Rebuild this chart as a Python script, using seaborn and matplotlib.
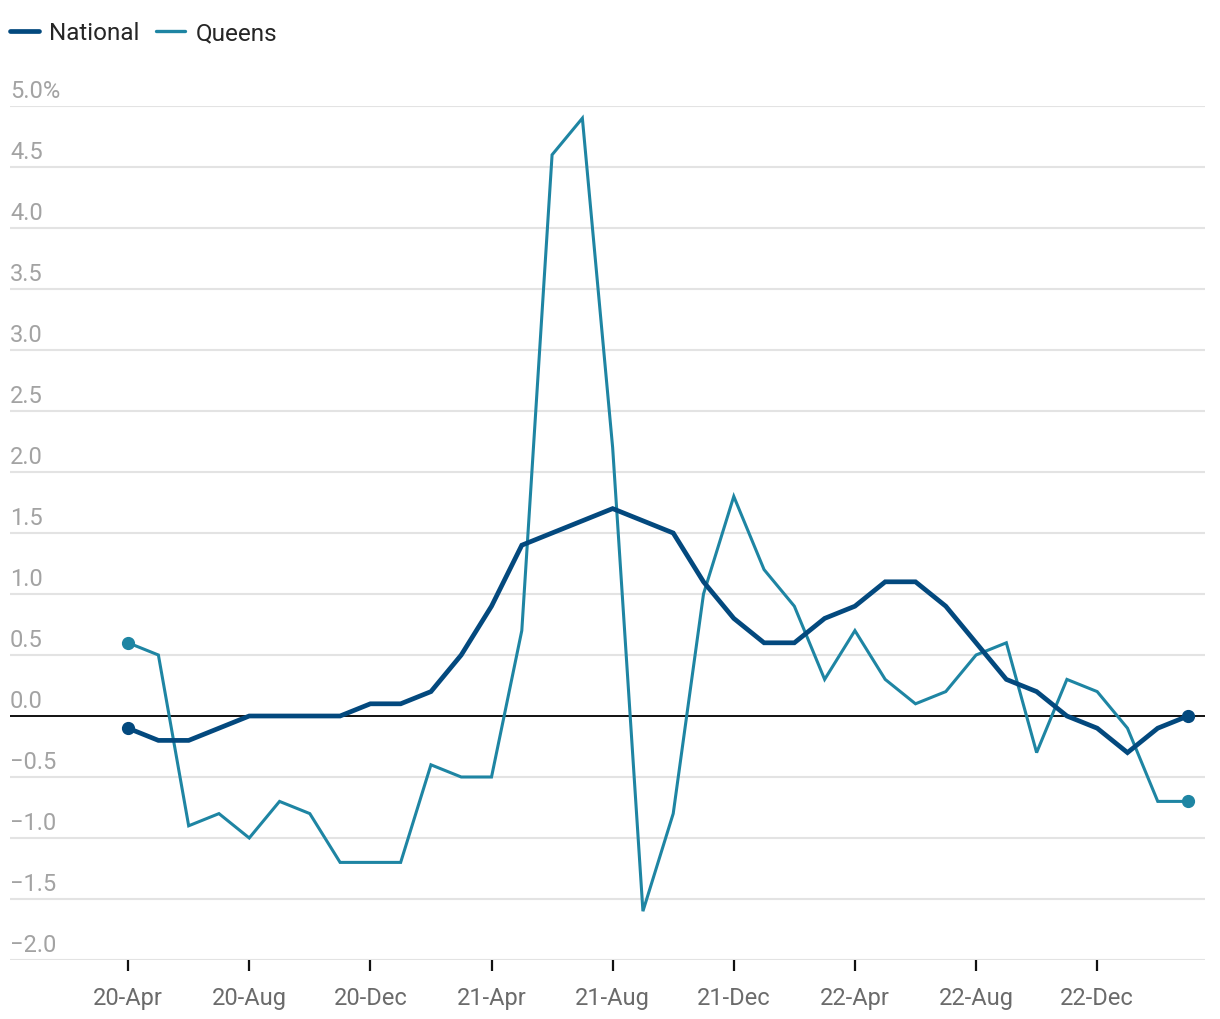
import matplotlib
matplotlib.use("Agg")
import matplotlib.pyplot as plt
import matplotlib.transforms as mtransforms
from matplotlib.lines import Line2D
import pandas as pd
import seaborn as sns

# monthly change, 20-Apr .. 23-Mar
months = ['20-Apr', '20-May', '20-Jun', '20-Jul', '20-Aug', '20-Sep', '20-Oct', '20-Nov', '20-Dec',
          '21-Jan', '21-Feb', '21-Mar', '21-Apr', '21-May', '21-Jun', '21-Jul', '21-Aug', '21-Sep',
          '21-Oct', '21-Nov', '21-Dec', '22-Jan', '22-Feb', '22-Mar', '22-Apr', '22-May', '22-Jun',
          '22-Jul', '22-Aug', '22-Sep', '22-Oct', '22-Nov', '22-Dec', '23-Jan', '23-Feb', '23-Mar']
national = [-0.1, -0.2, -0.2, -0.1, 0.0, 0.0, 0.0, 0.0, 0.1, 0.1, 0.2, 0.5, 0.9, 1.4, 1.5, 1.6,
            1.7, 1.6, 1.5, 1.1, 0.8, 0.6, 0.6, 0.8, 0.9, 1.1, 1.1, 0.9, 0.6, 0.3, 0.2, 0.0,
            -0.1, -0.3, -0.1, 0.0]
queens = [0.6, 0.5, -0.9, -0.8, -1.0, -0.7, -0.8, -1.2, -1.2, -1.2, -0.4, -0.5, -0.5, 0.7, 4.6, 4.9,
          2.2, -1.6, -0.8, 1.0, 1.8, 1.2, 0.9, 0.3, 0.7, 0.3, 0.1, 0.2, 0.5, 0.6, -0.3, 0.3,
          0.2, -0.1, -0.7, -0.7]
xtick_labels = ['20-Apr', '20-Aug', '20-Dec', '21-Apr', '21-Aug', '21-Dec', '22-Apr', '22-Aug', '22-Dec']
ytick_values = [-2.0, -1.5, -1.0, -0.5, 0.0, 0.5, 1.0, 1.5, 2.0, 2.5, 3.0, 3.5, 4.0, 4.5, 5.0]

colors = {'National': '#03497e', 'Queens': '#1e85a3'}
widths = {'National': 3.4, 'Queens': 2.2}

df = pd.DataFrame({
    'idx': list(range(len(months))) * 2,
    'series': ['Queens'] * len(months) + ['National'] * len(months),
    'value': queens + national,
})

sns.set_style('white')
plt.rcParams['font.family'] = ['Roboto', 'DejaVu Sans']

fig = plt.figure(figsize=(12.2, 10.2), dpi=100)
ax = fig.add_axes([10 / 1220, 59 / 1020, 1195 / 1220, 854 / 1020])

for name in ['Queens', 'National']:
    sub = df[df['series'] == name]
    sns.lineplot(data=sub, x='idx', y='value', color=colors[name], lw=widths[name],
                 ax=ax, zorder=3 if name == 'National' else 2, solid_capstyle='round',
                 solid_joinstyle='miter')
    ends = sub.iloc[[0, -1]]
    ax.plot(ends['idx'], ends['value'], 'o', color=colors[name], ms=8.5,
            zorder=4 if name == 'National' else 3)

ax.set_xlim(-3.9, 35.56)
ax.set_ylim(-2, 5)

# grid
for v in ytick_values:
    if v == 0:
        continue
    ax.axhline(v, color='#e3e3e3', lw=1.5, zorder=0)
ax.axhline(0, color='#111111', lw=1.4, zorder=1)

# y labels sit above the gridlines
ax.set_yticks([])
off = mtransforms.offset_copy(ax.get_yaxis_transform(), fig=fig, x=0, y=9, units='dots')
for v in ytick_values:
    lab = f'{v:.1f}'.replace('-', '\u2212')
    if v == 5.0:
        lab += '%'
    ax.text(0, v, lab, transform=off, ha='left', va='baseline', fontsize=17, color='#a3a3a3')

xt = [months.index(m) for m in xtick_labels]
ax.set_xticks(xt)
ax.set_xticklabels(xtick_labels, fontsize=17, color='#6b6b6b')
ax.tick_params(axis='x', length=8, width=1.6, color='#111111', pad=11, direction='out', bottom=True)
ax.set_xlabel('')
ax.set_ylabel('')
sns.despine(ax=ax, left=True, bottom=True)

handles = [Line2D([], [], color=colors['National'], lw=3.4, solid_capstyle='round'),
           Line2D([], [], color=colors['Queens'], lw=2.4, solid_capstyle='round')]
fig.legend(handles, ['National', 'Queens'], loc='center left',
           bbox_to_anchor=(10 / 1220, 1 - 34 / 1020),
           ncol=2, frameon=False, fontsize=17.5, handlelength=1.2, handletextpad=0.42,
           columnspacing=0.68, borderaxespad=0, borderpad=0)

fig.savefig('out.png', dpi=100)
